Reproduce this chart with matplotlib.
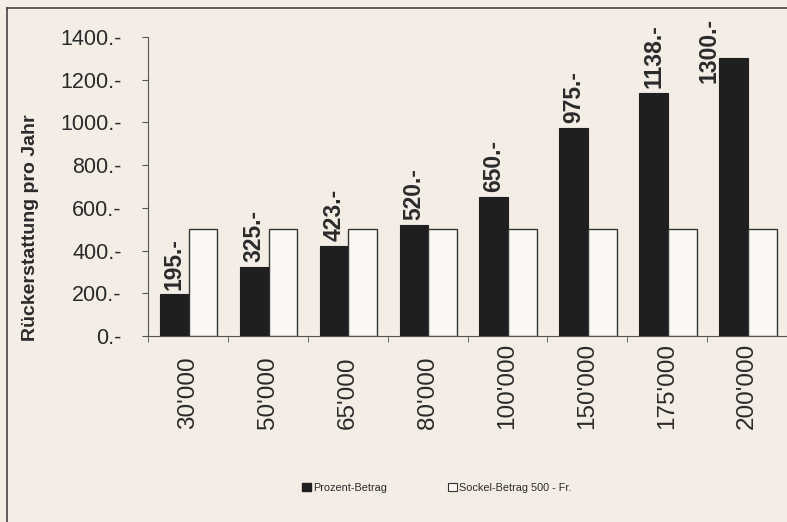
import matplotlib
matplotlib.use("Agg")
import matplotlib.pyplot as plt
from matplotlib.lines import Line2D
from matplotlib.patches import Patch
import numpy as np

categories = ["30'000", "50'000", "65'000", "80'000", "100'000", "150'000", "175'000", "200'000"]
prozent = [195, 325, 423, 520, 650, 975, 1138, 1300]
sockel = [500, 500, 500, 500, 500, 500, 500, 500]
value_labels = ["195.-", "325.-", "423.-", "520.-", "650.-", "975.-", "1138.-", "1300.-"]
yticks = [0, 200, 400, 600, 800, 1000, 1200, 1400]

bg = "#f3ede6"
dark = "#1f1f1f"
txt = "#2a2a2a"

plt.rcParams['font.family'] = ['Liberation Sans', 'DejaVu Sans']

fig = plt.figure(figsize=(7.87, 5.22), dpi=100)
fig.patch.set_facecolor(bg)
ax = fig.add_axes([148/787, 1-336/522, 1-148/787, (336-37)/522])
ax.set_facecolor(bg)

x = np.arange(len(categories))
w = 0.36
ax.bar(x - w/2 + 0.01, prozent, width=w, color=dark, edgecolor=dark, linewidth=0.8, zorder=3)
ax.bar(x + w/2 + 0.01, sockel, width=w, color="#fbf8f3", edgecolor="#333333", linewidth=1.0, zorder=3)

ymax = 1400
for xi, v, lab in zip(x, prozent, value_labels):
    if v > 0.9 * ymax:
        # label does not fit above the bar: put it beside, to the left
        ax.text(xi - w/2 + 0.01 - 0.31, v - 115, lab, rotation=90, ha='center', va='bottom',
                fontsize=16.5, fontweight='bold', color=txt, clip_on=False)
    else:
        ax.text(xi - w/2 + 0.01, v + 22, lab, rotation=90, ha='center', va='bottom',
                fontsize=16.5, fontweight='bold', color=txt, clip_on=False)

ax.set_xlim(-0.5, len(categories) - 0.5)
ax.set_ylim(0, ymax)
ax.set_yticks(yticks)
ax.set_yticklabels([f"{t}.-" for t in yticks], fontsize=15.5, color=txt)
ax.set_xticks(x)
ax.set_xticklabels([])
ax.tick_params(axis='x', length=0)
ax.set_xticks(np.arange(len(categories) + 1) - 0.5, minor=True)
ax.tick_params(axis='x', which='minor', length=4, color="#555555")
ax.tick_params(axis='y', length=4, color="#555555", pad=15)
for xi, c in zip(x, categories):
    ax.text(xi, -(429 - 336) / 299, c, rotation=90, ha='center', va='bottom',
            fontsize=17.5, color=txt, transform=ax.get_xaxis_transform(), clip_on=False)
for s in ['top', 'right']:
    ax.spines[s].set_visible(False)
ax.spines['left'].set_color("#555555")
ax.spines['bottom'].set_color("#555555")

fig.text(31/787, 1-228/522, "Rückerstattung pro Jahr", rotation=90, ha='center', va='center',
         fontsize=14, fontweight='bold', color=txt)

handles = [Patch(facecolor=dark, edgecolor=dark), Patch(facecolor="#fbf8f3", edgecolor="#333333", linewidth=0.8)]
fig.legend(handles, ["Prozent-Betrag", "Sockel-Betrag 500 - Fr."], loc='center',
           bbox_to_anchor=(0.555, 1-488/522), ncol=2, frameon=False, fontsize=7.8,
           handlelength=0.8, handleheight=0.8, handletextpad=0.2, columnspacing=5.6, labelcolor=txt)

fig.add_artist(Line2D([7/787, 7/787], [0, 1-8/522], color="#444444", linewidth=1.2))
fig.add_artist(Line2D([7/787, 1], [1-8/522, 1-8/522], color="#444444", linewidth=1.2))

fig.savefig("out.png", dpi=100, facecolor=bg)
